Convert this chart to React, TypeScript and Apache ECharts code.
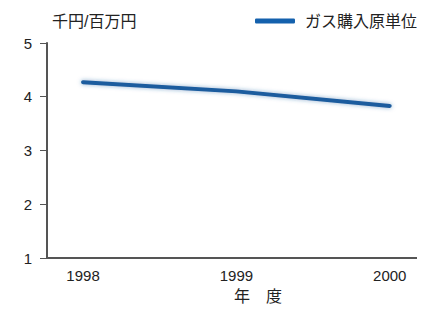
import React, { useEffect, useRef } from "react";
import * as echarts from "echarts";

const years = [1998, 1999, 2000];
const values = [4.27, 4.1, 3.83];
const yTicks = [1, 2, 3, 4, 5];
const seriesName = "ガス購入原単位";
const yUnit = "千円/百万円";
const xName = "年　度";

export default function App() {
  const ref = useRef<HTMLDivElement>(null);
  useEffect(() => {
    if (!ref.current) return;
    const chart = echarts.init(ref.current, null, { renderer: "svg" });
    const font = "'Liberation Sans', 'Noto Sans CJK JP', Arial, sans-serif";
    chart.setOption({
      animation: false,
      textStyle: { fontFamily: font },
      grid: { left: 47, right: 0, top: 43, bottom: 48 },
      legend: {
        data: [seriesName],
        right: 8,
        top: 13,
        padding: 0,
        icon: "roundRect",
        itemWidth: 40,
        itemHeight: 5,
        itemGap: 8,
        textStyle: { fontSize: 16, color: "#222", fontFamily: font, padding: [0, 0, 0, 5] },
      },
      xAxis: {
        type: "value",
        min: 1997.765,
        max: 2000.23,
        name: xName,
        nameLocation: "middle",
        nameGap: 30,
        nameTextStyle: { fontSize: 16, color: "#222", fontFamily: font, padding: [0, 0, 0, 44] },
        axisLine: { show: true, lineStyle: { color: "#555", width: 2 } },
        axisTick: { show: false },
        splitLine: { show: false },
        axisLabel: {
          customValues: years,
          color: "#222",
          fontSize: 15,
          margin: 10,
          formatter: (v: number) => String(v),
        },
      },
      yAxis: {
        type: "value",
        min: yTicks[0],
        max: yTicks[yTicks.length - 1],
        interval: 1,
        name: yUnit,
        nameLocation: "end",
        nameGap: 14,
        nameTextStyle: { fontSize: 16, color: "#222", align: "left", padding: [0, 0, 0, 5], fontFamily: font },
        axisLine: { show: true, lineStyle: { color: "#555", width: 2 } },
        axisTick: { show: true, length: 7, lineStyle: { color: "#555", width: 1 } },
        splitLine: { show: false },
        axisLabel: { color: "#222", fontSize: 15, margin: 15 },
      },
      series: [
        {
          name: seriesName,
          type: "line",
          data: years.map((y, i) => [y, values[i]]),
          symbol: "none",
          smooth: false,
          lineStyle: {
            color: "#1a5c9e",
            width: 4,
            cap: "round",
            shadowBlur: 4,
            shadowColor: "rgba(26,92,158,0.5)",
          },
          itemStyle: { color: "#1461ad" },
        },
      ],
    });
    return () => chart.dispose();
  }, []);
  return <div ref={ref} style={{ width: 425, height: 309, marginLeft: -8, marginTop: -8 }} />;
}
